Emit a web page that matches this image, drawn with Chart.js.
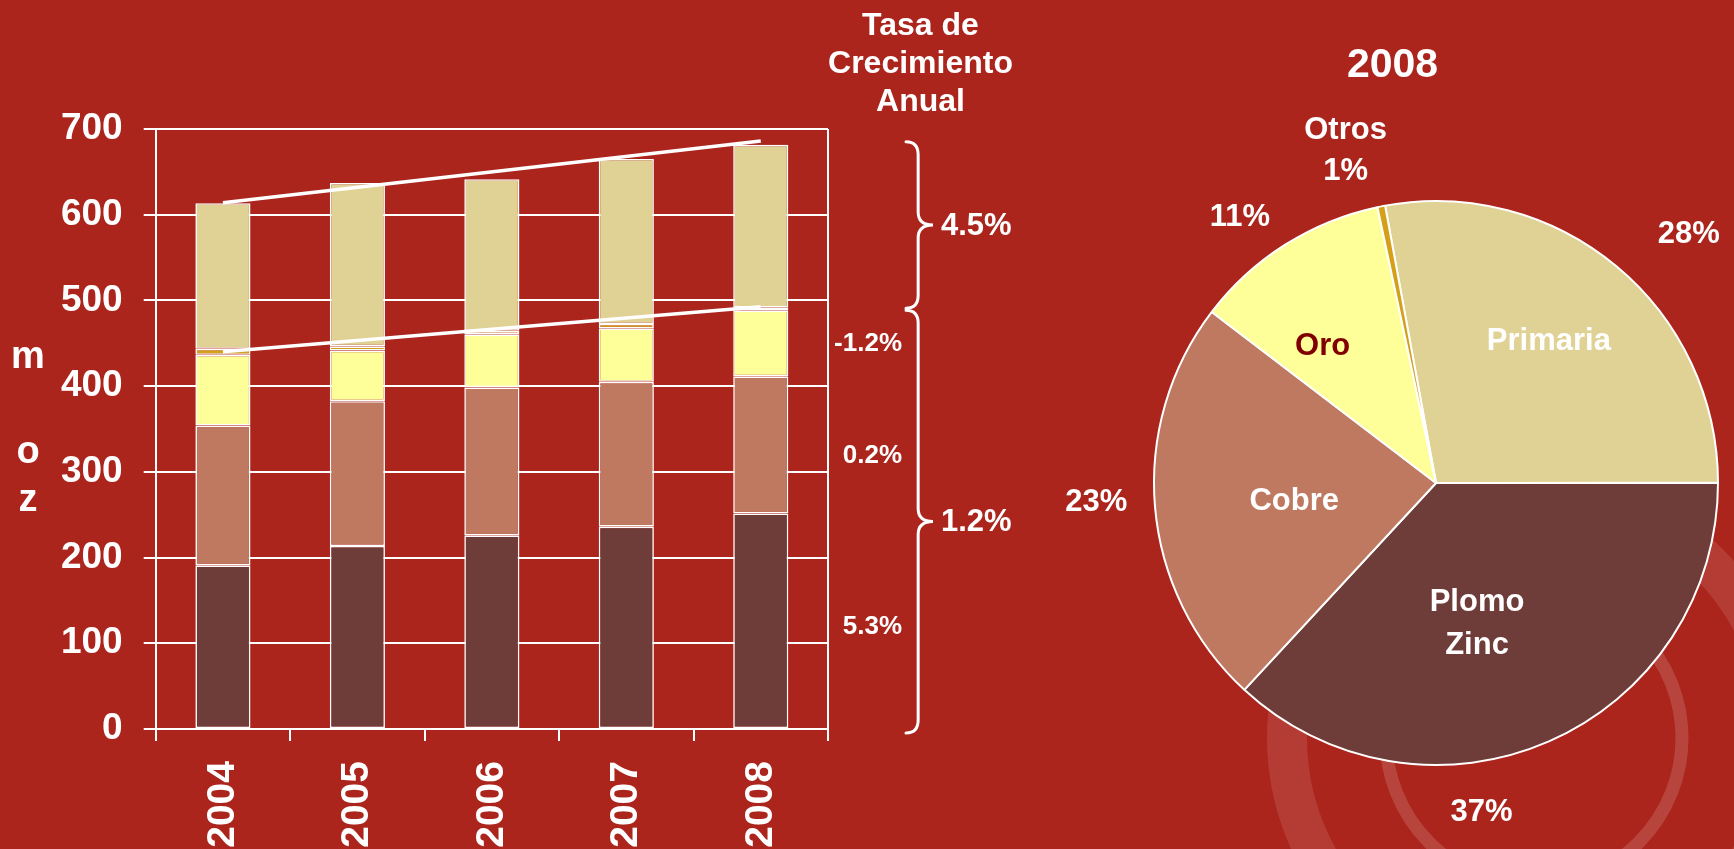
<!DOCTYPE html>
<html><head><meta charset="utf-8">
<script src="https://cdn.jsdelivr.net/npm/chart.js@4.4.1/dist/chart.umd.min.js"></script>
<style>
html,body{margin:0;padding:0;background:#AB251D;width:1734px;height:849px;overflow:hidden;}
#bar{position:absolute;left:0;top:0;}
#pie{position:absolute;left:1040px;top:0;}
</style></head><body>
<canvas id="bar" width="1040" height="849"></canvas>
<canvas id="pie" width="694" height="849"></canvas>
<script>
// ---- data (millions of ounces) ----
const years = ['2004', '2005', '2006', '2007', '2008'];
const plomoZinc = [191, 213.5, 226, 236, 251.5];
const cobre = [163, 169, 172.5, 169, 160];
const oro = [82.5, 59, 62, 62.5, 77];
const otros = [7, 5, 4, 5, 3];
const primaria = [170, 190.5, 177, 192.5, 190];
const upperTrend = [614, null, null, null, 686];
const lowerTrend = [440, null, null, null, 492.5];
const yTicks = [0, 100, 200, 300, 400, 500, 600, 700];
const growthTotals = ['4.5%', '1.2%'];          // primaria, resto
const growthSeries = ['5.3%', '0.2%', '-1.2%']; // plomo zinc, cobre, oro
const pieNames = ['Primaria', 'Plomo Zinc', 'Cobre', 'Oro', 'Otros'];
const pieShares = ['28%', '37%', '23%', '11%', '1%'];
const pieYear = '2008';

// ---- styles ----
const FONT = '"Liberation Sans", Arial, Helvetica, sans-serif';
Chart.defaults.font.family = FONT;
Chart.defaults.color = '#ffffff';
const COL = {plomo:'#6F3D39', cobre:'#BF7961', oro:'#FFFF99', otros:'#D4A017', primaria:'#E0D294'};
const last = years.length - 1;

function drawBrace(ctx, x0, top, bot, w, r) {
  const xs = x0 + w * 0.45, xt = x0 + w, mid = (top + bot) / 2;
  ctx.beginPath();
  ctx.moveTo(x0, top);
  ctx.quadraticCurveTo(xs, top, xs, top + r);
  ctx.lineTo(xs, mid - r);
  ctx.quadraticCurveTo(xs, mid, xt, mid);
  ctx.quadraticCurveTo(xs, mid, xs, mid + r);
  ctx.lineTo(xs, bot - r);
  ctx.quadraticCurveTo(xs, bot, x0, bot);
  ctx.stroke();
  return mid;
}

const barDecor = {
  id: 'barDecor',
  afterDraw(chart) {
    const {ctx, chartArea: ca, scales: {y}} = chart;
    ctx.save();
    ctx.fillStyle = '#fff';
    // vertical axis title "moz"
    ctx.font = `bold 38px ${FONT}`;
    ctx.textAlign = 'center'; ctx.textBaseline = 'middle';
    ['m', '', 'o', 'z'].forEach((ch, i) => { if (ch) ctx.fillText(ch, 28, 357.7 + i * 47.5); });
    // header
    ctx.font = `bold 32px ${FONT}`;
    ctx.textBaseline = 'alphabetic';
    ['Tasa de', 'Crecimiento', 'Anual'].forEach((t, i) => ctx.fillText(t, ca.right + 92.5, 35 + i * 38));
    // braces
    const nonPrim = plomoZinc[last] + cobre[last] + oro[last] + otros[last];
    const total = nonPrim + primaria[last];
    ctx.strokeStyle = '#fff'; ctx.lineWidth = 3; ctx.lineCap = 'round';
    const bx = ca.right + 78;
    const m1 = drawBrace(ctx, bx, y.getPixelForValue(total) - 3, y.getPixelForValue(nonPrim) + 0.5, 27, 13);
    const m2 = drawBrace(ctx, bx, y.getPixelForValue(nonPrim) + 2.5, y.getPixelForValue(0) + 4, 27, 13);
    ctx.font = `bold 31px ${FONT}`;
    ctx.textAlign = 'left'; ctx.textBaseline = 'middle';
    ctx.fillText(growthTotals[0], ca.right + 113, m1 + 1);
    ctx.fillText(growthTotals[1], ca.right + 113, m2 + 1);
    // per-series growth labels (at 2008 segment middles)
    ctx.font = `bold 26px ${FONT}`;
    ctx.textAlign = 'right';
    const segs = [[0, plomoZinc[last]],
                  [plomoZinc[last], plomoZinc[last] + cobre[last]],
                  [plomoZinc[last] + cobre[last], plomoZinc[last] + cobre[last] + oro[last]]];
    const nudge = [6, 11, 1];
    segs.forEach((s, i) => {
      const py = y.getPixelForValue((s[0] + s[1]) / 2) + nudge[i];
      ctx.fillText(growthSeries[i], ca.right + 74, py);
    });
    ctx.restore();
  }
};

new Chart(document.getElementById('bar'), {
  type: 'bar',
  data: {
    labels: years,
    datasets: [
      {type: 'line', data: upperTrend, borderColor: '#fff', borderWidth: 3.5, pointRadius: 0, spanGaps: true, stack: 't1', order: 0},
      {type: 'line', data: lowerTrend, borderColor: '#fff', borderWidth: 3.5, pointRadius: 0, spanGaps: true, stack: 't2', order: 0},
      {label: 'Plomo Zinc', data: plomoZinc, backgroundColor: COL.plomo, order: 1},
      {label: 'Cobre', data: cobre, backgroundColor: COL.cobre, order: 1},
      {label: 'Oro', data: oro, backgroundColor: COL.oro, order: 1},
      {label: 'Otros', data: otros, backgroundColor: COL.otros, order: 1},
      {label: 'Primaria', data: primaria, backgroundColor: COL.primaria, order: 1}
    ]
  },
  options: {
    responsive: false, animation: false, events: [],
    layout: {padding: {top: 129, right: 212, bottom: 0, left: 0}},
    datasets: {bar: {barPercentage: 0.41, categoryPercentage: 1, borderColor: '#fff', borderWidth: 1.6, borderSkipped: false}},
    plugins: {legend: {display: false}, tooltip: {enabled: false}},
    scales: {
      x: {
        stacked: true,
        grid: {offset: true, lineWidth: 2, tickLength: 12, tickColor: '#fff',
               color: (c) => (c.type !== 'tick' || c.index === 0) ? '#fff' : 'rgba(0,0,0,0)'},
        border: {color: '#fff', width: 2},
        ticks: {color: '#fff', font: {size: 39, weight: 'bold'}, minRotation: 90, maxRotation: 90, padding: 20, autoSkip: false},
        afterFit: (s) => { s.height = 120; }
      },
      y: {
        stacked: true, min: yTicks[0], max: yTicks[yTicks.length - 1],
        afterBuildTicks: (s) => { s.ticks = yTicks.map(v => ({value: v})); },
        ticks: {color: '#fff', font: {size: 37, weight: 'bold'}, padding: 21},
        grid: {color: '#fff', lineWidth: 2, tickLength: 12},
        border: {color: '#fff', width: 2},
        afterFit: (s) => { s.width = 155.7; }
      }
    }
  },
  plugins: [barDecor]
});

// ---- pie ----
const pieValues = [primaria[last], plomoZinc[last], cobre[last], oro[last], otros[last]];
const innerPos = [[-1.2, 0.642], [7.35, 0.52], [-2.35, 0.507], [-7.35, 0.63], null];
const outerPos = [[5.7, 1.257], [15.75, 1.18], [1.65, 1.207], [-4.15, 1.17], [-4.05, 1.22]];
const innerColor = ['#fff', '#fff', '#fff', '#800000', '#fff'];

const pieDecor = {
  id: 'pieDecor',
  beforeDraw(chart) {
    const ctx = chart.ctx;
    ctx.save();
    ctx.strokeStyle = 'rgba(255,255,255,0.11)';
    ctx.lineWidth = 40;
    ctx.beginPath(); ctx.arc(494, 738, 247, 0, Math.PI * 2); ctx.stroke();
    ctx.strokeStyle = 'rgba(255,255,255,0.15)';
    ctx.lineWidth = 13;
    ctx.beginPath(); ctx.arc(494, 738, 148, 0, Math.PI * 2); ctx.stroke();
    ctx.restore();
  },
  afterDatasetsDraw(chart) {
    const ctx = chart.ctx;
    const arcs = chart.getDatasetMeta(0).data;
    ctx.save();
    ctx.textAlign = 'center';
    ctx.font = `bold 41px ${FONT}`;
    ctx.fillStyle = '#fff';
    ctx.textBaseline = 'alphabetic';
    ctx.fillText(pieYear, arcs[0].x - 43.5, 76.7);
    ctx.textBaseline = 'middle';
    ctx.font = `bold 31px ${FONT}`;
    arcs.forEach((a, i) => {
      const mid = (a.startAngle + a.endAngle) / 2;
      const R = a.outerRadius;
      const place = (p) => {
        const ang = mid + p[0] * Math.PI / 180;
        return [a.x + Math.cos(ang) * R * p[1], a.y + Math.sin(ang) * R * p[1]];
      };
      const o = place(outerPos[i]);
      ctx.fillStyle = '#fff';
      if (innerPos[i]) {
        ctx.fillText(pieShares[i], o[0], o[1]);
        const c = place(innerPos[i]);
        const lines = pieNames[i].split(' ');
        ctx.fillStyle = innerColor[i];
        lines.forEach((ln, k) => ctx.fillText(ln, c[0], c[1] + (k - (lines.length - 1) / 2) * 42.5));
      } else {
        const lines = [pieNames[i], pieShares[i]];
        lines.forEach((ln, k) => ctx.fillText(ln, o[0], o[1] + (k - 0.5) * 41.7));
      }
    });
    ctx.restore();
  }
};

new Chart(document.getElementById('pie'), {
  type: 'pie',
  data: {
    labels: pieNames,
    datasets: [{
      data: pieValues,
      backgroundColor: [COL.primaria, COL.plomo, COL.cobre, COL.oro, COL.otros],
      borderColor: '#fff', borderWidth: 2, radius: 282
    }]
  },
  options: {
    responsive: false, animation: false, events: [],
    rotation: -10.4,
    layout: {padding: {left: 98, top: 117, right: 0, bottom: 0}},
    plugins: {legend: {display: false}, tooltip: {enabled: false}}
  },
  plugins: [pieDecor]
});
</script>
</body></html>
